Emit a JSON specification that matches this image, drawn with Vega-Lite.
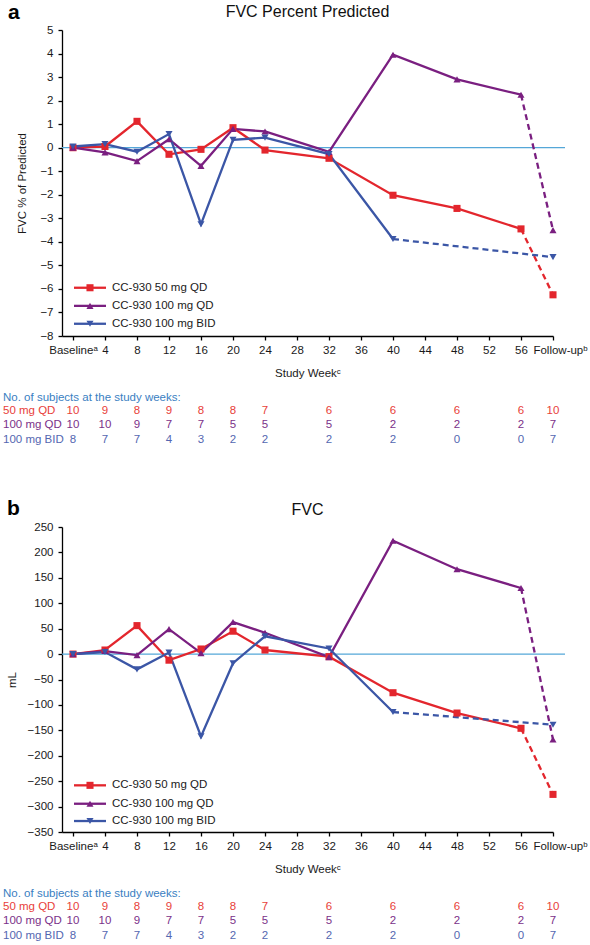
{
  "$schema": "https://vega.github.io/schema/vega-lite/v6.json",
  "padding": {"left": 3, "top": 1, "right": 5, "bottom": 2},
  "background": "white",
  "bounds": "flush",
  "spacing": 191,
  "config": {
    "font": "Liberation Sans",
    "view": {"stroke": null},
    "axis": {"grid": false, "labelOverlap": false, "labelFlush": false, "labelBound": false, "domainColor": "#000", "domainWidth": 1.3, "tickColor": "#000", "tickWidth": 1.3, "tickSize": 4, "labelFont": "Liberation Sans", "labelFontSize": 11.5, "labelColor": "#1a1a1a", "titleFont": "Liberation Sans", "titleFontSize": 11.5, "titleFontWeight": "normal", "titleColor": "#1a1a1a"},
    "text": {"font": "Liberation Sans"}
  },
  "datasets": {
    "pct": [
      {"s": "CC-930 50 mg QD", "w": 0, "v": 0}, {"s": "CC-930 50 mg QD", "w": 4, "v": 0.05}, {"s": "CC-930 50 mg QD", "w": 8, "v": 1.12}, {"s": "CC-930 50 mg QD", "w": 12, "v": -0.28}, {"s": "CC-930 50 mg QD", "w": 16, "v": -0.07}, {"s": "CC-930 50 mg QD", "w": 20, "v": 0.85}, {"s": "CC-930 50 mg QD", "w": 24, "v": -0.1}, {"s": "CC-930 50 mg QD", "w": 32, "v": -0.45}, {"s": "CC-930 50 mg QD", "w": 40, "v": -2.02}, {"s": "CC-930 50 mg QD", "w": 48, "v": -2.58}, {"s": "CC-930 50 mg QD", "w": 56, "v": -3.45}, {"s": "CC-930 50 mg QD", "w": 60, "v": -6.25},
      {"s": "CC-930 100 mg QD", "w": 0, "v": 0}, {"s": "CC-930 100 mg QD", "w": 4, "v": -0.2}, {"s": "CC-930 100 mg QD", "w": 8, "v": -0.57}, {"s": "CC-930 100 mg QD", "w": 12, "v": 0.36}, {"s": "CC-930 100 mg QD", "w": 16, "v": -0.77}, {"s": "CC-930 100 mg QD", "w": 20, "v": 0.8}, {"s": "CC-930 100 mg QD", "w": 24, "v": 0.69}, {"s": "CC-930 100 mg QD", "w": 32, "v": -0.18}, {"s": "CC-930 100 mg QD", "w": 40, "v": 3.95}, {"s": "CC-930 100 mg QD", "w": 48, "v": 2.9}, {"s": "CC-930 100 mg QD", "w": 56, "v": 2.25}, {"s": "CC-930 100 mg QD", "w": 60, "v": -3.5},
      {"s": "CC-930 100 mg BID", "w": 0, "v": 0.05}, {"s": "CC-930 100 mg BID", "w": 4, "v": 0.15}, {"s": "CC-930 100 mg BID", "w": 8, "v": -0.17}, {"s": "CC-930 100 mg BID", "w": 12, "v": 0.58}, {"s": "CC-930 100 mg BID", "w": 16, "v": -3.25}, {"s": "CC-930 100 mg BID", "w": 20, "v": 0.33}, {"s": "CC-930 100 mg BID", "w": 24, "v": 0.43}, {"s": "CC-930 100 mg BID", "w": 32, "v": -0.27}, {"s": "CC-930 100 mg BID", "w": 40, "v": -3.88}, {"s": "CC-930 100 mg BID", "w": 60, "v": -4.65}
    ],
    "ml": [
      {"s": "CC-930 50 mg QD", "w": 0, "v": 0}, {"s": "CC-930 50 mg QD", "w": 4, "v": 8}, {"s": "CC-930 50 mg QD", "w": 8, "v": 56}, {"s": "CC-930 50 mg QD", "w": 12, "v": -12}, {"s": "CC-930 50 mg QD", "w": 16, "v": 10}, {"s": "CC-930 50 mg QD", "w": 20, "v": 45}, {"s": "CC-930 50 mg QD", "w": 24, "v": 8}, {"s": "CC-930 50 mg QD", "w": 32, "v": -5}, {"s": "CC-930 50 mg QD", "w": 40, "v": -76}, {"s": "CC-930 50 mg QD", "w": 48, "v": -116}, {"s": "CC-930 50 mg QD", "w": 56, "v": -146}, {"s": "CC-930 50 mg QD", "w": 60, "v": -276},
      {"s": "CC-930 100 mg QD", "w": 0, "v": 0}, {"s": "CC-930 100 mg QD", "w": 4, "v": 6}, {"s": "CC-930 100 mg QD", "w": 8, "v": -2}, {"s": "CC-930 100 mg QD", "w": 12, "v": 49}, {"s": "CC-930 100 mg QD", "w": 16, "v": 2}, {"s": "CC-930 100 mg QD", "w": 20, "v": 63}, {"s": "CC-930 100 mg QD", "w": 24, "v": 42}, {"s": "CC-930 100 mg QD", "w": 32, "v": -6}, {"s": "CC-930 100 mg QD", "w": 40, "v": 223}, {"s": "CC-930 100 mg QD", "w": 48, "v": 167}, {"s": "CC-930 100 mg QD", "w": 56, "v": 130}, {"s": "CC-930 100 mg QD", "w": 60, "v": -168},
      {"s": "CC-930 100 mg BID", "w": 0, "v": 0}, {"s": "CC-930 100 mg BID", "w": 4, "v": 4}, {"s": "CC-930 100 mg BID", "w": 8, "v": -30}, {"s": "CC-930 100 mg BID", "w": 12, "v": 3}, {"s": "CC-930 100 mg BID", "w": 16, "v": -162}, {"s": "CC-930 100 mg BID", "w": 20, "v": -18}, {"s": "CC-930 100 mg BID", "w": 24, "v": 35}, {"s": "CC-930 100 mg BID", "w": 32, "v": 11}, {"s": "CC-930 100 mg BID", "w": 40, "v": -114}, {"s": "CC-930 100 mg BID", "w": 60, "v": -139}
    ],
    "n": [
      {"g": "50 mg QD", "w": 0, "n": 10}, {"g": "50 mg QD", "w": 4, "n": 9}, {"g": "50 mg QD", "w": 8, "n": 8}, {"g": "50 mg QD", "w": 12, "n": 9}, {"g": "50 mg QD", "w": 16, "n": 8}, {"g": "50 mg QD", "w": 20, "n": 8}, {"g": "50 mg QD", "w": 24, "n": 7}, {"g": "50 mg QD", "w": 32, "n": 6}, {"g": "50 mg QD", "w": 40, "n": 6}, {"g": "50 mg QD", "w": 48, "n": 6}, {"g": "50 mg QD", "w": 56, "n": 6}, {"g": "50 mg QD", "w": 60, "n": 10},
      {"g": "100 mg QD", "w": 0, "n": 10}, {"g": "100 mg QD", "w": 4, "n": 10}, {"g": "100 mg QD", "w": 8, "n": 9}, {"g": "100 mg QD", "w": 12, "n": 7}, {"g": "100 mg QD", "w": 16, "n": 7}, {"g": "100 mg QD", "w": 20, "n": 5}, {"g": "100 mg QD", "w": 24, "n": 5}, {"g": "100 mg QD", "w": 32, "n": 5}, {"g": "100 mg QD", "w": 40, "n": 2}, {"g": "100 mg QD", "w": 48, "n": 2}, {"g": "100 mg QD", "w": 56, "n": 2}, {"g": "100 mg QD", "w": 60, "n": 7},
      {"g": "100 mg BID", "w": 0, "n": 8}, {"g": "100 mg BID", "w": 4, "n": 7}, {"g": "100 mg BID", "w": 8, "n": 7}, {"g": "100 mg BID", "w": 12, "n": 4}, {"g": "100 mg BID", "w": 16, "n": 3}, {"g": "100 mg BID", "w": 20, "n": 2}, {"g": "100 mg BID", "w": 24, "n": 2}, {"g": "100 mg BID", "w": 32, "n": 2}, {"g": "100 mg BID", "w": 40, "n": 2}, {"g": "100 mg BID", "w": 48, "n": 0}, {"g": "100 mg BID", "w": 56, "n": 0}, {"g": "100 mg BID", "w": 60, "n": 7}
    ]
  },
  "vconcat": [
    {
      "width": 491,
      "height": 306,
      "layer": [
        {"data": {"values": [{}]}, "mark": {"type": "rule", "color": "#55a7d8", "strokeWidth": 1.2},
         "encoding": {"x": {"datum": -1.375}, "x2": {"datum": 61.5}, "y": {"datum": 0}}},
        {"data": {"name": "pct"}, "transform": [{"filter": "datum.w < 60"}],
         "mark": {"type": "line", "strokeWidth": 2.3},
         "encoding": {
           "x": {"field": "w", "type": "quantitative", "scale": {"domain": [-1.375, 60], "nice": false, "zero": false},
                 "axis": {"values": [0,4,8,12,16,20,24,28,32,36,40,44,48,52,56,60], "tickCount": 100, "format": "d", "labelExpr": "datum.value == 0 ? 'Baselineᵃ' : datum.value == 60 ? 'Follow-upᵇ' : datum.label", "labelOffset": {"condition": {"test": "datum.value == 60", "value": 7}, "value": 0}, "title": "Study Weekᶜ", "labelOverlap": false, "labelFlush": false, "labelPadding": 4, "titlePadding": 12}},
           "y": {"field": "v", "type": "quantitative", "scale": {"domain": [-8, 5], "nice": false, "zero": false},
                 "axis": {"values": [-8,-7,-6,-5,-4,-3,-2,-1,0,1,2,3,4,5], "tickCount": 100, "format": "d", "title": "FVC % of Predicted", "labelPadding": 5, "titlePadding": 12, "labelOverlap": false, "labelFlush": false}},
           "color": {"field": "s", "type": "nominal", "scale": {"domain": ["CC-930 50 mg QD", "CC-930 100 mg QD", "CC-930 100 mg BID"], "range": ["#e3262d", "#7a1f80", "#3b56a6"]}, "legend": null}
         }},
        {"data": {"name": "pct"},
         "transform": [{"window": [{"op": "rank", "as": "rk"}], "sort": [{"field": "w", "order": "descending"}], "groupby": ["s"]}, {"filter": "datum.rk <= 2"}],
         "mark": {"type": "line", "strokeWidth": 2.3, "strokeDash": [6, 4]},
         "encoding": {
           "x": {"field": "w", "type": "quantitative"},
           "y": {"field": "v", "type": "quantitative"},
           "color": {"field": "s", "type": "nominal", "legend": null}
         }},
        {"data": {"name": "pct"},
         "mark": {"type": "point", "filled": true, "opacity": 1, "size": 50},
         "encoding": {
           "x": {"field": "w", "type": "quantitative"},
           "y": {"field": "v", "type": "quantitative"},
           "color": {"field": "s", "type": "nominal", "legend": null},
           "shape": {"field": "s", "type": "nominal", "scale": {"domain": ["CC-930 50 mg QD", "CC-930 100 mg QD", "CC-930 100 mg BID"], "range": ["square", "triangle-up", "triangle-down"]}, "legend": null}
         }},
        {"data": {"values": [{"t": "CC-930 50 mg QD"}]},
         "encoding": {"y": {"datum": -5.95}},
         "layer": [
           {"mark": {"type": "rule", "color": "#e3262d", "strokeWidth": 2.3}, "encoding": {"x": {"datum": 0.125}, "x2": {"datum": 4.125}}},
           {"mark": {"type": "point", "filled": true, "opacity": 1, "size": 50, "shape": "square", "color": "#e3262d"}, "encoding": {"x": {"datum": 2.125}}},
           {"mark": {"type": "text", "align": "left", "baseline": "middle", "fontSize": 11.5, "color": "#1a1a1a"}, "encoding": {"x": {"datum": 4.875}, "text": {"field": "t"}}}
         ]},
        {"data": {"values": [{"t": "CC-930 100 mg QD"}]},
         "encoding": {"y": {"datum": -6.72}},
         "layer": [
           {"mark": {"type": "rule", "color": "#7a1f80", "strokeWidth": 2.3}, "encoding": {"x": {"datum": 0.125}, "x2": {"datum": 4.125}}},
           {"mark": {"type": "point", "filled": true, "opacity": 1, "size": 50, "shape": "triangle-up", "color": "#7a1f80"}, "encoding": {"x": {"datum": 2.125}}},
           {"mark": {"type": "text", "align": "left", "baseline": "middle", "fontSize": 11.5, "color": "#1a1a1a"}, "encoding": {"x": {"datum": 4.875}, "text": {"field": "t"}}}
         ]},
        {"data": {"values": [{"t": "CC-930 100 mg BID"}]},
         "encoding": {"y": {"datum": -7.48}},
         "layer": [
           {"mark": {"type": "rule", "color": "#3b56a6", "strokeWidth": 2.3}, "encoding": {"x": {"datum": 0.125}, "x2": {"datum": 4.125}}},
           {"mark": {"type": "point", "filled": true, "opacity": 1, "size": 50, "shape": "triangle-down", "color": "#3b56a6"}, "encoding": {"x": {"datum": 2.125}}},
           {"mark": {"type": "text", "align": "left", "baseline": "middle", "fontSize": 11.5, "color": "#1a1a1a"}, "encoding": {"x": {"datum": 4.875}, "text": {"field": "t"}}}
         ]},
        {"data": {"values": [{"t": "a"}]},
         "mark": {"type": "text", "align": "left", "baseline": "alphabetic", "fontSize": 21, "fontWeight": "bold", "color": "#000"},
         "encoding": {"x": {"datum": -8.125}, "y": {"datum": 5.47}, "text": {"field": "t"}}},
        {"data": {"values": [{"t": "FVC Percent Predicted"}]},
         "mark": {"type": "text", "align": "center", "baseline": "alphabetic", "fontSize": 16, "color": "#111"},
         "encoding": {"x": {"datum": 29.31}, "y": {"datum": 5.55}, "text": {"field": "t"}}},
        {"data": {"values": [{"t": "No. of subjects at the study weeks:"}]},
         "mark": {"type": "text", "align": "left", "baseline": "middle", "fontSize": 11.5, "color": "#3a80c2"},
         "encoding": {"x": {"datum": -8.75}, "y": {"datum": -10.63}, "text": {"field": "t"}}},
        {"data": {"name": "n"}, "transform": [{"filter": "datum.g == '50 mg QD'"}],
         "encoding": {"y": {"datum": -11.2}},
         "layer": [
           {"mark": {"type": "text", "align": "center", "baseline": "middle", "fontSize": 11.5, "color": "#e8413a"}, "encoding": {"x": {"field": "w", "type": "quantitative"}, "text": {"field": "n"}}},
           {"transform": [{"filter": "datum.w == 0"}], "mark": {"type": "text", "align": "left", "baseline": "middle", "fontSize": 11.5, "color": "#e8413a"}, "encoding": {"x": {"datum": -8.75}, "text": {"field": "g"}}}
         ]},
        {"data": {"name": "n"}, "transform": [{"filter": "datum.g == '100 mg QD'"}],
         "encoding": {"y": {"datum": -11.79}},
         "layer": [
           {"mark": {"type": "text", "align": "center", "baseline": "middle", "fontSize": 11.5, "color": "#7b3189"}, "encoding": {"x": {"field": "w", "type": "quantitative"}, "text": {"field": "n"}}},
           {"transform": [{"filter": "datum.w == 0"}], "mark": {"type": "text", "align": "left", "baseline": "middle", "fontSize": 11.5, "color": "#7b3189"}, "encoding": {"x": {"datum": -8.75}, "text": {"field": "g"}}}
         ]},
        {"data": {"name": "n"}, "transform": [{"filter": "datum.g == '100 mg BID'"}],
         "encoding": {"y": {"datum": -12.43}},
         "layer": [
           {"mark": {"type": "text", "align": "center", "baseline": "middle", "fontSize": 11.5, "color": "#5467b1"}, "encoding": {"x": {"field": "w", "type": "quantitative"}, "text": {"field": "n"}}},
           {"transform": [{"filter": "datum.w == 0"}], "mark": {"type": "text", "align": "left", "baseline": "middle", "fontSize": 11.5, "color": "#5467b1"}, "encoding": {"x": {"datum": -8.75}, "text": {"field": "g"}}}
         ]}
      ]
    },
    {
      "width": 491,
      "height": 305,
      "layer": [
        {"data": {"values": [{}]}, "mark": {"type": "rule", "color": "#55a7d8", "strokeWidth": 1.2},
         "encoding": {"x": {"datum": -1.375}, "x2": {"datum": 61.5}, "y": {"datum": 0}}},
        {"data": {"name": "ml"}, "transform": [{"filter": "datum.w < 60"}],
         "mark": {"type": "line", "strokeWidth": 2.3},
         "encoding": {
           "x": {"field": "w", "type": "quantitative", "scale": {"domain": [-1.375, 60], "nice": false, "zero": false},
                 "axis": {"values": [0,4,8,12,16,20,24,28,32,36,40,44,48,52,56,60], "tickCount": 100, "format": "d", "labelExpr": "datum.value == 0 ? 'Baselineᵃ' : datum.value == 60 ? 'Follow-upᵇ' : datum.label", "labelOffset": {"condition": {"test": "datum.value == 60", "value": 7}, "value": 0}, "title": "Study Weekᶜ", "labelOverlap": false, "labelFlush": false, "labelPadding": 4, "titlePadding": 12}},
           "y": {"field": "v", "type": "quantitative", "scale": {"domain": [-350, 250], "nice": false, "zero": false},
                 "axis": {"values": [-350,-300,-250,-200,-150,-100,-50,0,50,100,150,200,250], "tickCount": 100, "format": "d", "title": "mL", "labelPadding": 5, "titlePadding": 10, "labelOverlap": false, "labelFlush": false}},
           "color": {"field": "s", "type": "nominal", "scale": {"domain": ["CC-930 50 mg QD", "CC-930 100 mg QD", "CC-930 100 mg BID"], "range": ["#e3262d", "#7a1f80", "#3b56a6"]}, "legend": null}
         }},
        {"data": {"name": "ml"},
         "transform": [{"window": [{"op": "rank", "as": "rk"}], "sort": [{"field": "w", "order": "descending"}], "groupby": ["s"]}, {"filter": "datum.rk <= 2"}],
         "mark": {"type": "line", "strokeWidth": 2.3, "strokeDash": [6, 4]},
         "encoding": {
           "x": {"field": "w", "type": "quantitative"},
           "y": {"field": "v", "type": "quantitative"},
           "color": {"field": "s", "type": "nominal", "legend": null}
         }},
        {"data": {"name": "ml"},
         "mark": {"type": "point", "filled": true, "opacity": 1, "size": 50},
         "encoding": {
           "x": {"field": "w", "type": "quantitative"},
           "y": {"field": "v", "type": "quantitative"},
           "color": {"field": "s", "type": "nominal", "legend": null},
           "shape": {"field": "s", "type": "nominal", "scale": {"domain": ["CC-930 50 mg QD", "CC-930 100 mg QD", "CC-930 100 mg BID"], "range": ["square", "triangle-up", "triangle-down"]}, "legend": null}
         }},
        {"data": {"values": [{"t": "CC-930 50 mg QD"}]},
         "encoding": {"y": {"datum": -258.2}},
         "layer": [
           {"mark": {"type": "rule", "color": "#e3262d", "strokeWidth": 2.3}, "encoding": {"x": {"datum": 0.125}, "x2": {"datum": 4.125}}},
           {"mark": {"type": "point", "filled": true, "opacity": 1, "size": 50, "shape": "square", "color": "#e3262d"}, "encoding": {"x": {"datum": 2.125}}},
           {"mark": {"type": "text", "align": "left", "baseline": "middle", "fontSize": 11.5, "color": "#1a1a1a"}, "encoding": {"x": {"datum": 4.875}, "text": {"field": "t"}}}
         ]},
        {"data": {"values": [{"t": "CC-930 100 mg QD"}]},
         "encoding": {"y": {"datum": -294.4}},
         "layer": [
           {"mark": {"type": "rule", "color": "#7a1f80", "strokeWidth": 2.3}, "encoding": {"x": {"datum": 0.125}, "x2": {"datum": 4.125}}},
           {"mark": {"type": "point", "filled": true, "opacity": 1, "size": 50, "shape": "triangle-up", "color": "#7a1f80"}, "encoding": {"x": {"datum": 2.125}}},
           {"mark": {"type": "text", "align": "left", "baseline": "middle", "fontSize": 11.5, "color": "#1a1a1a"}, "encoding": {"x": {"datum": 4.875}, "text": {"field": "t"}}}
         ]},
        {"data": {"values": [{"t": "CC-930 100 mg BID"}]},
         "encoding": {"y": {"datum": -328.4}},
         "layer": [
           {"mark": {"type": "rule", "color": "#3b56a6", "strokeWidth": 2.3}, "encoding": {"x": {"datum": 0.125}, "x2": {"datum": 4.125}}},
           {"mark": {"type": "point", "filled": true, "opacity": 1, "size": 50, "shape": "triangle-down", "color": "#3b56a6"}, "encoding": {"x": {"datum": 2.125}}},
           {"mark": {"type": "text", "align": "left", "baseline": "middle", "fontSize": 11.5, "color": "#1a1a1a"}, "encoding": {"x": {"datum": 4.875}, "text": {"field": "t"}}}
         ]},
        {"data": {"values": [{"t": "b"}]},
         "mark": {"type": "text", "align": "left", "baseline": "alphabetic", "fontSize": 21, "fontWeight": "bold", "color": "#000"},
         "encoding": {"x": {"datum": -8.25}, "y": {"datum": 273.6}, "text": {"field": "t"}}},
        {"data": {"values": [{"t": "FVC"}]},
         "mark": {"type": "text", "align": "center", "baseline": "alphabetic", "fontSize": 16, "color": "#111"},
         "encoding": {"x": {"datum": 29.31}, "y": {"datum": 274.2}, "text": {"field": "t"}}},
        {"data": {"values": [{"t": "No. of subjects at the study weeks:"}]},
         "mark": {"type": "text", "align": "left", "baseline": "middle", "fontSize": 11.5, "color": "#3a80c2"},
         "encoding": {"x": {"datum": -8.75}, "y": {"datum": -472}, "text": {"field": "t"}}},
        {"data": {"name": "n"}, "transform": [{"filter": "datum.g == '50 mg QD'"}],
         "encoding": {"y": {"datum": -498.2}},
         "layer": [
           {"mark": {"type": "text", "align": "center", "baseline": "middle", "fontSize": 11.5, "color": "#e8413a"}, "encoding": {"x": {"field": "w", "type": "quantitative"}, "text": {"field": "n"}}},
           {"transform": [{"filter": "datum.w == 0"}], "mark": {"type": "text", "align": "left", "baseline": "middle", "fontSize": 11.5, "color": "#e8413a"}, "encoding": {"x": {"datum": -8.75}, "text": {"field": "g"}}}
         ]},
        {"data": {"name": "n"}, "transform": [{"filter": "datum.g == '100 mg QD'"}],
         "encoding": {"y": {"datum": -525.7}},
         "layer": [
           {"mark": {"type": "text", "align": "center", "baseline": "middle", "fontSize": 11.5, "color": "#7b3189"}, "encoding": {"x": {"field": "w", "type": "quantitative"}, "text": {"field": "n"}}},
           {"transform": [{"filter": "datum.w == 0"}], "mark": {"type": "text", "align": "left", "baseline": "middle", "fontSize": 11.5, "color": "#7b3189"}, "encoding": {"x": {"datum": -8.75}, "text": {"field": "g"}}}
         ]},
        {"data": {"name": "n"}, "transform": [{"filter": "datum.g == '100 mg BID'"}],
         "encoding": {"y": {"datum": -555.2}},
         "layer": [
           {"mark": {"type": "text", "align": "center", "baseline": "middle", "fontSize": 11.5, "color": "#5467b1"}, "encoding": {"x": {"field": "w", "type": "quantitative"}, "text": {"field": "n"}}},
           {"transform": [{"filter": "datum.w == 0"}], "mark": {"type": "text", "align": "left", "baseline": "middle", "fontSize": 11.5, "color": "#5467b1"}, "encoding": {"x": {"datum": -8.75}, "text": {"field": "g"}}}
         ]}
      ]
    }
  ]
}
